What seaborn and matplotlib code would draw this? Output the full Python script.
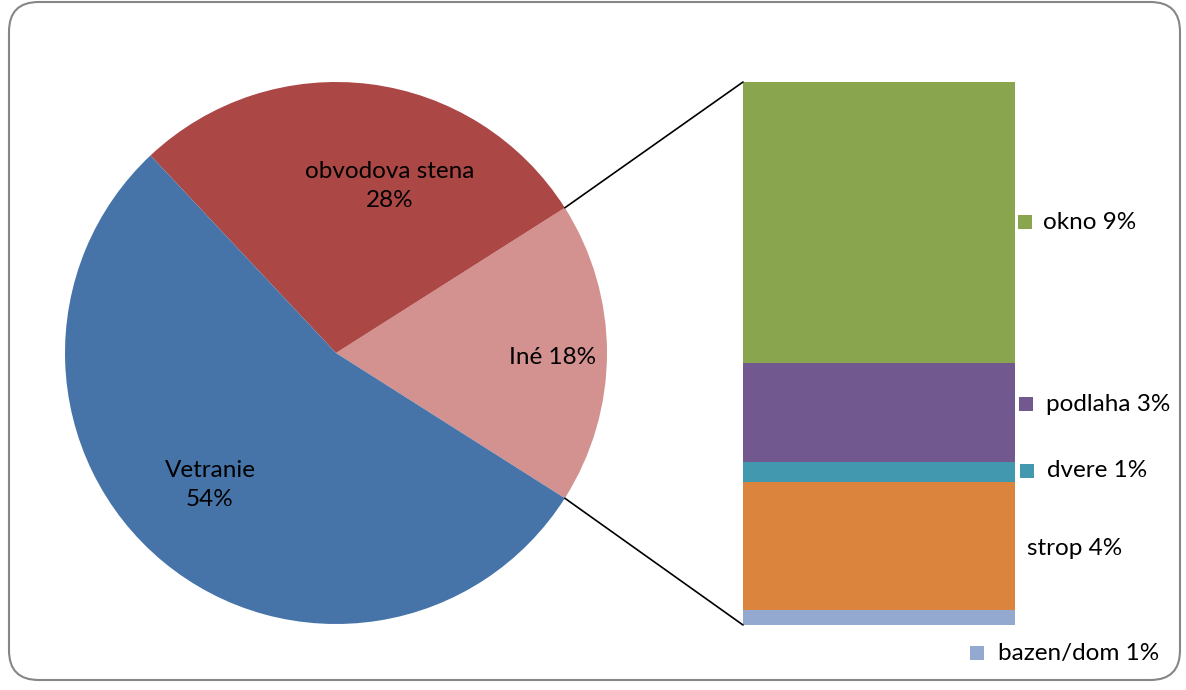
import numpy as np
import matplotlib
matplotlib.use("Agg")
import matplotlib.pyplot as plt
from matplotlib.patches import FancyBboxPatch, ConnectionPatch, Rectangle
import seaborn as sns

# ---- data ----
pie_labels = ["Iné", "obvodova stena", "Vetranie"]
pie_values = [18, 28, 54]
pie_colors = ["#D39190", "#AB4744", "#4674A9"]

bar_labels = ["bazen/dom", "strop", "dvere", "podlaha", "okno"]
bar_values = [0.5, 4.25, 0.65, 3.3, 9.3]
bar_pct = ["1%", "4%", "1%", "3%", "9%"]
bar_colors = ["#93A9CF", "#DB843D", "#4198AF", "#71588F", "#89A54E"]

sns.set_theme(style="white")
plt.rcParams["font.family"] = ["Lato", "DejaVu Sans"]
FS = 17.5

W, H = 1186, 690
fig = plt.figure(figsize=(W / 100, H / 100), dpi=100)
fig.patch.set_facecolor("white")

# border
border = FancyBboxPatch((9 / W, 10 / H), (1180 - 9) / W, (688 - 10) / H,
                        boxstyle="round,pad=0,rounding_size=0.025",
                        transform=fig.transFigure, fill=False,
                        edgecolor="#868686", linewidth=1.5,
                        mutation_aspect=W / H)
fig.patches.append(border)

# ---- pie ----
cx, cy, r = 336, 353, 271
axp = fig.add_axes([(cx - r) / W, (H - cy - r) / H, 2 * r / W, 2 * r / H])
start = -pie_values[0] / 100 * 360 / 2
wedges, _ = axp.pie(pie_values, colors=pie_colors, startangle=start,
                    counterclock=True, radius=1,
                    wedgeprops=dict(linewidth=0))
axp.set_xlim(-1, 1)
axp.set_ylim(-1, 1)
axp.set_aspect("equal")
axp.axis("off")

label_pos = {"Iné": (0.80, -0.015), "obvodova stena": (0.199, 0.616),
             "Vetranie": (-0.465, -0.487)}
for lab, val in zip(pie_labels, pie_values):
    x, y = label_pos[lab]
    txt = f"{lab} {val}%" if lab == "Iné" else f"{lab}\n{val}%"
    axp.text(x, y, txt, ha="center", va="center", fontsize=FS,
             color="black", linespacing=1.5)

# ---- stacked bar ----
bx0, bx1, by0, by1 = 743, 1015, 82, 625
axb = fig.add_axes([bx0 / W, (H - by1) / H, (bx1 - bx0) / W, (by1 - by0) / H])
bottom = 0
mids = []
for lab, val, col in zip(bar_labels, bar_values, bar_colors):
    axb.bar(0, val, bottom=bottom, width=1.0, color=col, linewidth=0)
    mids.append(bottom + val / 2)
    bottom += val
axb.set_xlim(-0.5, 0.5)
axb.set_ylim(0, sum(bar_values))
axb.axis("off")

# connectors
ang = np.deg2rad(pie_values[0] / 100 * 360 / 2)
for sgn, yb in [(1, 1), (-1, 0)]:
    con = ConnectionPatch(xyA=(np.cos(ang), sgn * np.sin(ang)), coordsA=axp.transData,
                          xyB=(0, yb), coordsB=axb.transAxes,
                          color="black", linewidth=1.2)
    fig.add_artist(con)

# bar labels with keys: (dy pixel offset, key x px, text x px, show key)
lab_layout = {
    "okno": (0, 1018, 1043, True),
    "podlaha": (-8, 1019, 1046, True),
    "dvere": (-1, 1020, 1047, True),
    "strop": (3, None, 1027, False),
    "bazen/dom": (36, 970, 998, True),
}
for lab, pct, col, mid in zip(bar_labels, bar_pct, bar_colors, mids):
    dy, kx, tx, show = lab_layout[lab]
    ypix = by1 - (mid / sum(bar_values)) * (by1 - by0) + dy
    yf = (H - ypix) / H
    if show:
        fig.patches.append(Rectangle((kx / W, yf - 7 / H), 14 / W, 14 / H,
                                     transform=fig.transFigure, color=col,
                                     linewidth=0))
    fig.text(tx / W, yf, f"{lab} {pct}", ha="left", va="center",
             fontsize=FS, color="black")

fig.savefig("out.png", dpi=100, facecolor="white")
